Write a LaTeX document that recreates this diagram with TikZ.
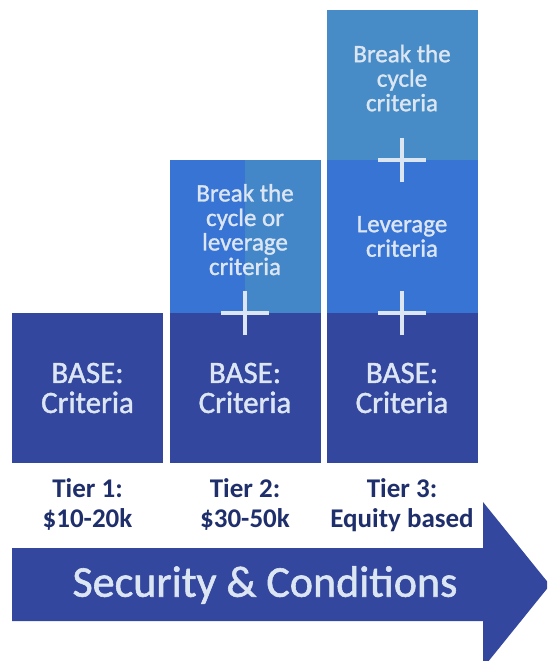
\documentclass[tikz,border=0pt]{standalone}
\usepackage{fontspec}
\setmainfont{Carlito}
\newfontfamily\boxfont[FakeBold=1.3]{Carlito}
\usetikzlibrary{positioning}
\definecolor{basecol}{HTML}{34479E}
\definecolor{levcol}{HTML}{3774D4}
\definecolor{brkcol}{HTML}{478CC6}
\definecolor{palecol}{HTML}{DCE6F2}
\definecolor{navycol}{HTML}{1F2F6B}
\tikzset{
	tierbox/.style={
		minimum width=151pt,
		inner sep=0pt,
		outer sep=0pt,
		align=center,
		text=palecol,
	},
	basebox/.style={
		tierbox,
		fill=basecol,
		minimum height=150pt,
		font={\boxfont\fontsize{31}{30}\selectfont}
	},
	critbox/.style={
		tierbox,
		minimum height=153pt,
		font={\boxfont\fontsize{25}{24.5}\selectfont}
	},
	tierlbl/.style={
		align=center,
		text=navycol,
		inner sep=0pt,
		font={\bfseries\fontsize{27}{30}\selectfont}
	},
	plus/.style={draw=palecol, line width=4pt},
}

\begin{document}
\begin{tikzpicture}[x=1pt, y=-1pt]
	\clip (0,0) rectangle (547,661);
	\fill[white] (0,0) rectangle (547,661);
	
	% base row
	\node(base1)[basebox] at (87.5,388) {BASE:\\Criteria};
	\node(base2)[basebox] at (245,388) {BASE:\\Criteria};
	\node(base3)[basebox] at (402,388) {BASE:\\Criteria};
	
	% extra criteria
	\node(brk2)[critbox, fill=levcol, text depth=14pt, above=0 of base2,
		path picture={\fill[brkcol!80!levcol] (path picture bounding box.north) rectangle (path picture bounding box.south east);}]
		{Break the\\cycle or\\leverage\\criteria};
	\node(lev3)[critbox, fill=levcol, above=0 of base3]{Leverage\\criteria};
	\node(brk3)[critbox, fill=brkcol, text depth=14pt, minimum height=150pt, above=0 of lev3]{Break the\\cycle\\criteria};
	
	\foreach \crit in {brk2, lev3, brk3}{
		\draw[plus] ([xshift=-24pt]\crit.south) -- ([xshift=24pt]\crit.south)
			([yshift=-22pt]\crit.south) -- ([yshift=22pt]\crit.south);
	};
	
	% tiers
	\node(tier1)[tierlbl, below=15pt of base1]{Tier 1:\\\$10-20k};
	\node(tier2)[tierlbl, below=15pt of base2]{Tier 2:\\\$30-50k};
	\node(tier3)[tierlbl, below=15pt of base3]{Tier 3:\\Equity based};
	
	% arrow
	\fill[basecol] (12,548) -- (483,548) -- (483,502) -- (550,585) -- (483,668)
		-- (483,621) -- (12,621) -- cycle;
	\node(flow)[text=palecol, font={\boxfont\fontsize{44}{44}\selectfont}] at (265,585) {Security \& Conditions};
\end{tikzpicture}
\end{document}
